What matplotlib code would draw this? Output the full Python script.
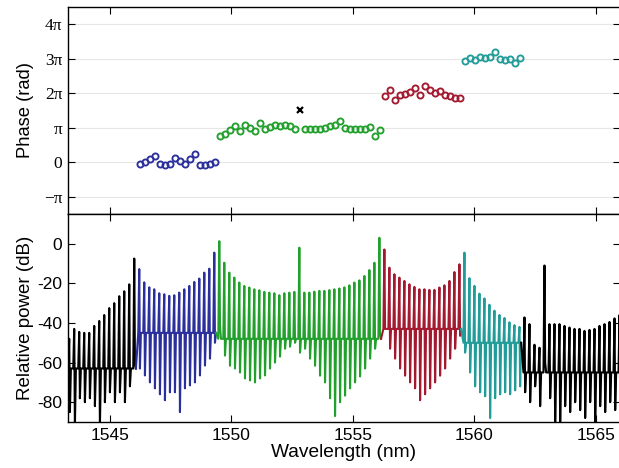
import numpy as np
import matplotlib
matplotlib.use("Agg")
import matplotlib.pyplot as plt

# ---------------- data ----------------
center_wl = 1552.81      # nm, centre comb line
spacing = 0.206          # nm, comb line spacing

# spectral phase (in units of pi) per comb line index
blue_idx = np.arange(-32, -16)
blue_phase = [-0.05, 0.0, 0.08, 0.19, -0.04, -0.07, -0.05, 0.13, 0.03, -0.05,
              0.08, 0.25, -0.07, -0.07, -0.05, 0.0]
green_idx = np.r_[-16:0, 1:17]
green_phase = [0.75, 0.82, 0.93, 1.06, 0.90, 1.09, 1.00, 0.92, 1.14, 0.95,
               1.03, 1.09, 1.06, 1.09, 1.06, 0.97,
               0.97, 0.97, 0.97, 0.97, 1.00, 1.06, 1.09, 1.19, 1.00, 0.97,
               0.97, 0.97, 0.97, 1.03, 0.77, 0.93]
red_idx = np.arange(17, 33)
red_phase = [1.93, 2.09, 1.80, 1.96, 1.99, 2.03, 2.16, 1.96, 2.22, 2.09,
             2.00, 2.06, 1.96, 1.91, 1.87, 1.87]
cyan_idx = np.arange(33, 45)
cyan_phase = [2.93, 3.03, 2.96, 3.05, 3.03, 3.05, 3.19, 2.98, 2.96, 2.98,
              2.88, 3.03]
cw_idx = [0]
cw_phase = [1.51]

# optical spectrum: peak and trough level (dB) per comb line, plus floor level
bl_idx = np.arange(-46, -32)
bl_peak = [-48, -43, -44.5, -45, -45, -41.5, -39, -36, -32.5, -30, -26.5, -24, -20.5, -7.5]
bl_trough = [-85, -92, -78, -80, -78, -82, -92, -80, -75, -80, -75, -80, -72, -60]
bl_floor = -63

sb_idx = blue_idx
sb_peak = [-12.8, -19.5, -22, -23, -25, -25.5, -26.3, -26, -24.7, -23, -21.3,
           -19.3, -17.6, -14.6, -12.6, -4.5]
sb_trough = [-63, -66.5, -70, -73, -76, -79, -75, -75, -85, -73, -71.5, -70,
             -66.5, -61.5, -58, -50]
sb_floor = -45

sg_idx = np.arange(-16, 17)
sg_peak = [1.3, -9.6, -14.6, -17.1, -19.6, -21.3, -22.1, -23, -23.5, -24.3,
           -24.7, -25, -26, -25, -24.7, -24.3,
           -2.0,
           -24.7, -24.7, -24.2, -23.8, -23.8, -23.4, -23, -22.6, -22, -21,
           -19.6, -18.5, -16.3, -13.3, -9.6, 3.0]
sg_trough = [-41, -56.5, -61.6, -63, -65, -68, -69, -70, -68, -66.5, -63, -60,
             -57, -53, -52, -50,
             -55,
             -53, -58, -61.6, -66.6, -70, -78, -87, -80, -76.7, -73, -70, -67,
             -63, -58, -53, -45.6]
sg_floor = -48

sr_idx = red_idx
sr_peak = [-2.9, -12.1, -15.4, -17.1, -18.8, -20.5, -21.8, -23, -23, -23.3,
           -23.3, -22.1, -21, -18.8, -14.3, -10.4]
sr_trough = [-43, -53, -58, -63, -66.6, -70, -73, -79, -76, -73, -70, -66.6,
             -63, -58, -53, -46.5]
sr_floor = -43

sc_idx = cyan_idx
sc_peak = [-4.5, -17.4, -21.3, -25.2, -27.6, -30.8, -33.8, -36, -37.5, -39.7,
           -41.1, -42]
sc_trough = [-55, -65, -72, -75, -77, -88, -78, -76, -75, -76, -74, -72]
sc_floor = -50

br_idx = np.arange(45, 65)
br_peak = [-37.2, -40.6, -51, -52.5, -11, -40.6, -40.6, -40.6, -41.5, -42.3,
           -43, -43, -44, -43.5, -43, -41.5, -40.6, -39.5, -37.7, -36]
br_trough = [-75, -80, -72, -82, -60, -78, -92, -92, -82, -85, -80, -84, -88,
             -80, -92, -82, -85, -80, -84, -80]
br_floor = -65

c_blue = "#2b2f9c"
c_green = "#22a02c"
c_red = "#a3192f"
c_cyan = "#229c98"
c_black = "#000000"

phase_ticks = [-1, 0, 1, 2, 3, 4]
phase_ticklabels = ["\u2212\u03c0", "0", "\u03c0", "2\u03c0", "3\u03c0", "4\u03c0"]
wl_ticks = [1545, 1550, 1555, 1560, 1565]
db_ticks = [-80, -60, -40, -20, 0]

# ---------------- figure ----------------
plt.rcParams["font.family"] = ["Liberation Sans", "DejaVu Sans"]
fig = plt.figure(figsize=(6.19, 4.68), dpi=100)
W, H = 619.0, 468.0
left, right = 68 / W, 620 / W
ax1 = fig.add_axes([left, 1 - 214 / H, right - left, (214 - 7) / H])
ax2 = fig.add_axes([left, 1 - 422 / H, right - left, (422 - 214) / H])

def wl(idx):
    return center_wl + np.asarray(idx) * spacing

# phase panel
for y in phase_ticks:
    ax1.axhline(y * np.pi, color="#e6e6e6", lw=0.8, zorder=0)
for idx, ph, col in [(blue_idx, blue_phase, c_blue), (green_idx, green_phase, c_green),
                     (red_idx, red_phase, c_red), (cyan_idx, cyan_phase, c_cyan)]:
    ax1.plot(wl(idx), np.asarray(ph) * np.pi, "o", ms=4.4, mfc="none",
             mec=col, mew=1.35)
ax1.plot(wl(cw_idx), np.asarray(cw_phase) * np.pi, "x", ms=4.2, mew=1.6,
         color="black")

ax1.set_ylim(-1.5 * np.pi, 4.5 * np.pi)
ax1.set_yticks(np.asarray(phase_ticks) * np.pi)
ax1.set_yticklabels(phase_ticklabels, family=["Liberation Serif", "DejaVu Serif"],
                    fontsize=12.5)
ax1.set_ylabel("Phase (rad)", fontsize=13.2)
ax1.yaxis.set_label_coords(-0.062, 0.5)

# spectrum panel
def trace(idx, peaks, troughs, floor):
    xs, ys = [], []
    for k, p, t in zip(idx, peaks, troughs):
        lam = center_wl + k * spacing
        xs += [lam - 0.055, lam - 0.014, lam + 0.014, lam + 0.055]
        ys += [floor, p, t, floor]
    return xs, ys

segments = [(bl_idx, bl_peak, bl_trough, bl_floor, c_black),
            (sb_idx, sb_peak, sb_trough, sb_floor, c_blue),
            (sg_idx, sg_peak, sg_trough, sg_floor, c_green),
            (sr_idx, sr_peak, sr_trough, sr_floor, c_red),
            (sc_idx, sc_peak, sc_trough, sc_floor, c_cyan),
            (br_idx, br_peak, br_trough, br_floor, c_black)]
prev = None
for idx, pk, tr, fl, col in segments:
    xs, ys = trace(idx, pk, tr, fl)
    if prev is not None:
        xs = [prev[0]] + xs
        ys = [prev[1]] + ys
    ax2.plot(xs, ys, color=col, lw=1.5, solid_joinstyle="round")
    prev = (xs[-1], ys[-1])

ax2.set_ylim(-90, 15)
ax2.set_yticks(db_ticks)
ax2.set_yticklabels([str(v) for v in db_ticks], fontsize=12.5)
ax2.set_ylabel("Relative power (dB)", fontsize=13.5)
ax2.yaxis.set_label_coords(-0.062, 0.5)
ax2.set_xlabel("Wavelength (nm)", fontsize=13.8, labelpad=1)

for ax in (ax1, ax2):
    ax.set_xlim(1543.27, 1566.0)
    ax.set_xticks(wl_ticks)
    ax.tick_params(direction="in", length=5, width=0.8, top=True, right=True,
                   pad=4)
    for s in ax.spines.values():
        s.set_linewidth(1.0)
ax1.tick_params(labelbottom=False)
ax2.set_xticklabels([str(v) for v in wl_ticks], fontsize=12.5)

fig.savefig("out.png", dpi=100)
